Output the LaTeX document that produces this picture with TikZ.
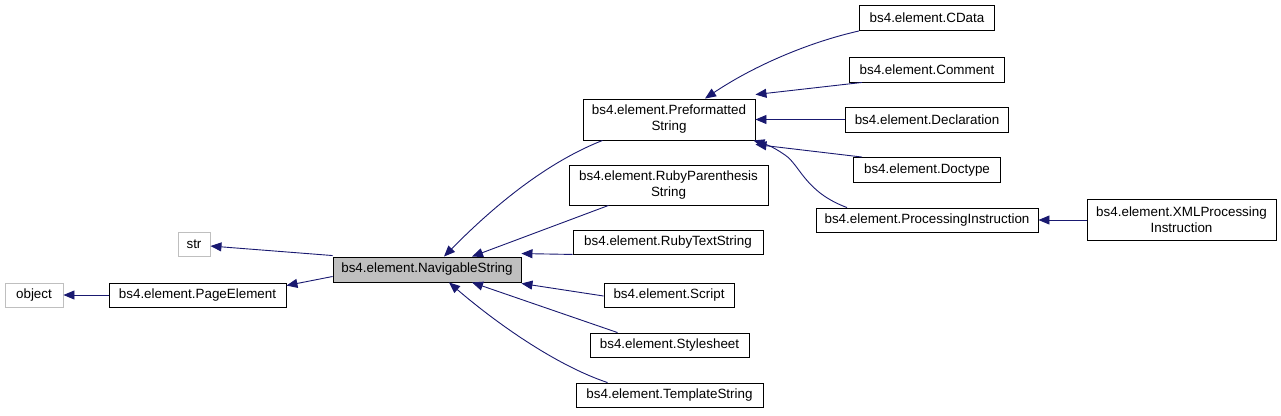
\documentclass[tikz,border=0pt]{standalone}
\usepackage{fontspec}
\setmainfont{Liberation Sans}
\usetikzlibrary{arrows.meta}
\definecolor{edgeblue}{HTML}{191970}
\definecolor{boxgray}{HTML}{BFBFBF}
\tikzset{
  cls/.style={draw=black, line width=0.9pt, inner sep=0pt, align=center,
    font=\fontsize{13.4}{16}\selectfont, fill=white},
  ext/.style={cls, draw=boxgray},
  cur/.style={cls, fill=boxgray},
  inh/.style={draw=edgeblue, line width=0.9pt, -{Triangle[length=11pt,width=9pt]}},
}
\begin{document}
\begin{tikzpicture}[x=1pt,y=-1pt]
\useasboundingbox (0,0) rectangle (1281,415);
% nodes
\node[ext, minimum width=58, minimum height=24] (object) at (34,295) {object};
\node[cls, minimum width=177, minimum height=24] (page) at (197.5,295) {bs4.element.PageElement};
\node[ext, minimum width=32, minimum height=24] (str) at (194,244) {str};
\node[cur, minimum width=188, minimum height=25] (nav) at (427,269.5) {bs4.element.NavigableString};
\node[cls, minimum width=172, minimum height=41] (pref) at (669,119.5) {bs4.element.Preformatted\\String};
\node[cls, minimum width=199, minimum height=40] (rparen) at (668.5,185) {bs4.element.RubyParenthesis\\String};
\node[cls, minimum width=190, minimum height=24] (rtext) at (668,242) {bs4.element.RubyTextString};
\node[cls, minimum width=130, minimum height=24] (script) at (669,295) {bs4.element.Script};
\node[cls, minimum width=159, minimum height=24] (style) at (669.5,345) {bs4.element.Stylesheet};
\node[cls, minimum width=187, minimum height=24] (templ) at (669.5,395) {bs4.element.TemplateString};
\node[cls, minimum width=135, minimum height=25] (cdata) at (927,18) {bs4.element.CData};
\node[cls, minimum width=155, minimum height=25] (comment) at (927,69.5) {bs4.element.Comment};
\node[cls, minimum width=163, minimum height=25] (decl) at (927,119.5) {bs4.element.Declaration};
\node[cls, minimum width=147, minimum height=25] (doctype) at (927,170) {bs4.element.Doctype};
\node[cls, minimum width=222, minimum height=24] (proc) at (927,220) {bs4.element.ProcessingInstruction};
\node[cls, minimum width=189, minimum height=41] (xml) at (1181.5,220) {bs4.element.XMLProcessing\\Instruction};
% edges (child -> parent)
\draw[inh] (page.west) -- (object.east);
\draw[inh] ([yshift=-7]nav.west) -- ([yshift=-3]page.north east);
\draw[inh] ([yshift=1]nav.north west) -- ([yshift=-2]str.east);
\draw[inh] ([xshift=20]pref.south west) .. controls (540,165) and (485,215) .. ([xshift=17]nav.north);
\draw[inh] ([xshift=-60]rparen.south) -- ([xshift=45]nav.north);
\draw[inh] (rtext.south west) -- ([yshift=3]nav.north east);
\draw[inh] ([yshift=-1]script.west) -- ([yshift=-1]nav.south east);
\draw[inh] ([xshift=-52]style.north) -- ([xshift=45]nav.south);
\draw[inh] ([xshift=-62]templ.north) .. controls (555,365) and (495,322) .. ([xshift=22]nav.south);
\draw[inh] ([xshift=-68]cdata.south) .. controls (810,42) and (755,65) .. ([xshift=36]pref.north);
\draw[inh] ([xshift=-65]comment.south) -- ([yshift=4]pref.north east);
\draw[inh] (decl.west) -- (pref.east);
\draw[inh] ([xshift=-65]doctype.north) -- ([yshift=-4]pref.south east);
\draw[inh] ([xshift=-80]proc.north) .. controls (805,192) and (800,165) .. (785,155) .. controls (775,148) and (768,145) .. ([xshift=-2]pref.south east);
\draw[inh] (xml.west) -- (proc.east);
\end{tikzpicture}
\end{document}
